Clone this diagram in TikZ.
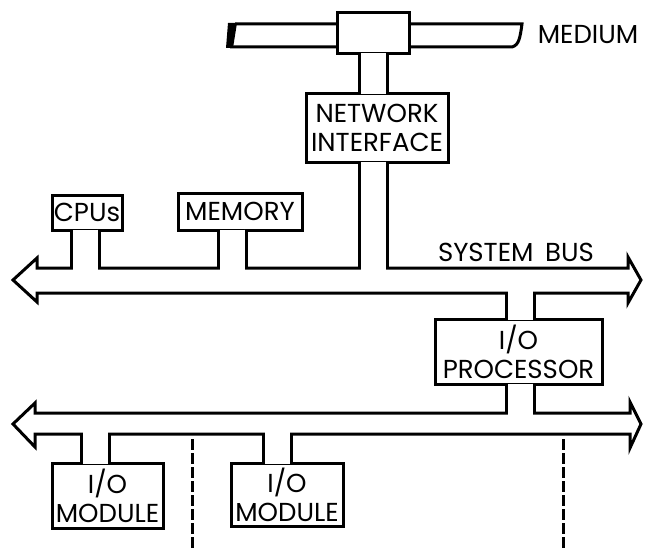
\documentclass[tikz,border=0pt]{standalone}
\usepackage{fontspec}
\setmainfont{Poppins}
\usetikzlibrary{calc}
\newcommand{\boxfont}{\fontsize{26}{29}\selectfont}

\begin{document}
\begin{tikzpicture}[
    x=1pt, y=-1pt, line width=3pt,
    box/.style={draw, fill=white, inner sep=0pt, align=center, font=\boxfont},
    label/.style={inner sep=0pt, font=\boxfont},
    stem/.style={double=white, double distance=25pt},
    mouth/.style={white, line width=25pt, shorten <=-2pt, shorten >=-2pt},
    drop/.style={dash pattern=on 11pt off 3pt, line width=3pt, shorten <=5pt}
]
\useasboundingbox (0,0) rectangle (645,551);

% medium with tap
\fill (228,23) -- (237,23) -- (233,48) -- (226,48) -- cycle;
\draw (230,47) -- (512,47) .. controls (519,45) and (520,38) .. (522,24) -- (235,24);
\node[box, minimum width=72, minimum height=41] (tap) at (373,33.5) {};
\node[label] (medium) at (588,35) {MEDIUM};

% buses
\draw[fill=white] (37,268) -- (37,258) -- (13,280) -- (37,302) -- (37,293) -- (628,293)
    -- (628,303) -- (641,280) -- (628,257) -- (628,268) -- cycle;
\draw[fill=white] (35,413) -- (35,403) -- (13,424) -- (35,447) -- (35,434) -- (630,434)
    -- (630,448) -- (641,424) -- (630,402) -- (630,413) -- cycle;
\coordinate (sbtop) at (0,268);
\coordinate (sbbot) at (0,293);
\coordinate (lbtop) at (0,413);
\coordinate (lbbot) at (0,434);
\node[label] (sblabel) at (516,252) {SYSTEM\hspace{0.45em}BUS};

% boxes
\node[box, minimum width=142, minimum height=69] (netif) at (377,127.5) {NETWORK\\INTERFACE};
\node[box, minimum width=70, minimum height=35] (cpu) at (87,212.5) {CPUs};
\node[box, minimum width=124, minimum height=37] (mem) at (240,211.5) {MEMORY};
\node[box, minimum width=167, minimum height=65] (iop) at (518.5,351.5) {I/O\\PROCESSOR};
\node[box, minimum width=111, minimum height=65] (mod1) at (107.5,495.5) {I/O\\MODULE};
\node[box, minimum width=112, minimum height=63] (mod2) at (287,494.5) {I/O\\MODULE};

% stems
\draw[stem] (373.5,0 |- tap.south) -- (373.5,0 |- netif.north);
\draw[mouth] (373.5,0 |- tap.south) -- (373.5,0 |- netif.north);
\draw[stem] (373.5,0 |- netif.south) -- (373.5,0 |- sbtop);
\draw[mouth] (373.5,0 |- netif.south) -- (373.5,0 |- sbtop);
\draw[stem] (85.5,0 |- cpu.south) -- (85.5,0 |- sbtop);
\draw[mouth] (85.5,0 |- cpu.south) -- (85.5,0 |- sbtop);
\draw[stem] (232.5,0 |- mem.south) -- (232.5,0 |- sbtop);
\draw[mouth] (232.5,0 |- mem.south) -- (232.5,0 |- sbtop);
\draw[stem] (520.5,0 |- sbbot) -- (520.5,0 |- iop.north);
\draw[mouth] (520.5,0 |- sbbot) -- (520.5,0 |- iop.north);
\draw[stem] (520.5,0 |- iop.south) -- (520.5,0 |- lbtop);
\draw[mouth] (520.5,0 |- iop.south) -- (520.5,0 |- lbtop);
\draw[stem] (95,0 |- lbbot) -- (95,0 |- mod1.north);
\draw[mouth] (95,0 |- lbbot) -- (95,0 |- mod1.north);
\draw[stem] (277.5,0 |- lbbot) -- (277.5,0 |- mod2.north);
\draw[mouth] (277.5,0 |- lbbot) -- (277.5,0 |- mod2.north);

% further taps
\coordinate (end1) at (192,551);
\coordinate (end2) at (563,551);
\draw[drop] (192,0 |- lbbot) -- (end1);
\draw[drop] (563,0 |- lbbot) -- (end2);
\end{tikzpicture}
\end{document}
